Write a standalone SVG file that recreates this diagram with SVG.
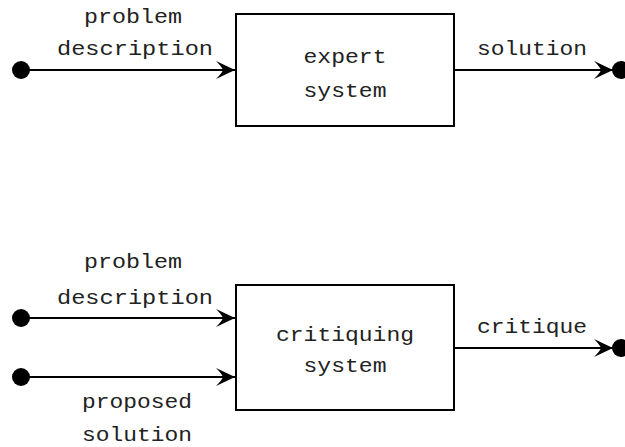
<svg xmlns="http://www.w3.org/2000/svg" width="625" height="447" viewBox="0 0 625 447">
<defs>
<style>
.t{font-family:"Liberation Mono","Courier New",monospace;font-size:21px;fill:#222;text-anchor:middle}
.box{fill:#fff;stroke:#000;stroke-width:2}
.edge{stroke:#000;stroke-width:2;fill:none;marker-end:url(#ah)}
.dot{fill:#000}
</style>
<marker id="ah" viewBox="-20 -10 22 20" refX="0" refY="0" markerWidth="22" markerHeight="20" markerUnits="userSpaceOnUse" orient="auto">
<path d="M0,0 L-19,-9 Q-13,-3 -12,0 Q-13,3 -19,9 Z" fill="#000"/>
</marker>
</defs>
<g id="connectors">
<line class="edge" x1="21" y1="70" x2="235" y2="70"/>
<line class="edge" x1="455" y1="70" x2="613" y2="70"/>
<line class="edge" x1="21" y1="318" x2="235" y2="318"/>
<line class="edge" x1="21" y1="377" x2="235" y2="377"/>
<line class="edge" x1="455" y1="348" x2="613" y2="348"/>
<circle class="dot" cx="21" cy="70" r="9"/>
<circle class="dot" cx="621" cy="70" r="9"/>
<circle class="dot" cx="21" cy="318" r="9"/>
<circle class="dot" cx="21" cy="377" r="9"/>
<circle class="dot" cx="621" cy="348" r="9"/>
<text class="t" x="133" y="23" textLength="98" lengthAdjust="spacingAndGlyphs">problem</text>
<text class="t" x="135" y="55" textLength="156" lengthAdjust="spacingAndGlyphs">description</text>
<text class="t" x="532" y="55" textLength="110" lengthAdjust="spacingAndGlyphs">solution</text>
<text class="t" x="133" y="268" textLength="98" lengthAdjust="spacingAndGlyphs">problem</text>
<text class="t" x="135" y="304" textLength="156" lengthAdjust="spacingAndGlyphs">description</text>
<text class="t" x="137" y="408" textLength="110" lengthAdjust="spacingAndGlyphs">proposed</text>
<text class="t" x="137" y="441" textLength="110" lengthAdjust="spacingAndGlyphs">solution</text>
<text class="t" x="532" y="333" textLength="110" lengthAdjust="spacingAndGlyphs">critique</text>
</g>
<g id="expert">
<rect class="box" x="236" y="14" width="218" height="112"/>
<text class="t" x="345" y="63" textLength="83" lengthAdjust="spacingAndGlyphs">expert</text>
<text class="t" x="345" y="97" textLength="83" lengthAdjust="spacingAndGlyphs">system</text>
</g>
<g id="critiquing">
<rect class="box" x="236" y="285" width="218" height="125"/>
<text class="t" x="345" y="341" textLength="138" lengthAdjust="spacingAndGlyphs">critiquing</text>
<text class="t" x="345" y="372" textLength="83" lengthAdjust="spacingAndGlyphs">system</text>
</g>
</svg>
